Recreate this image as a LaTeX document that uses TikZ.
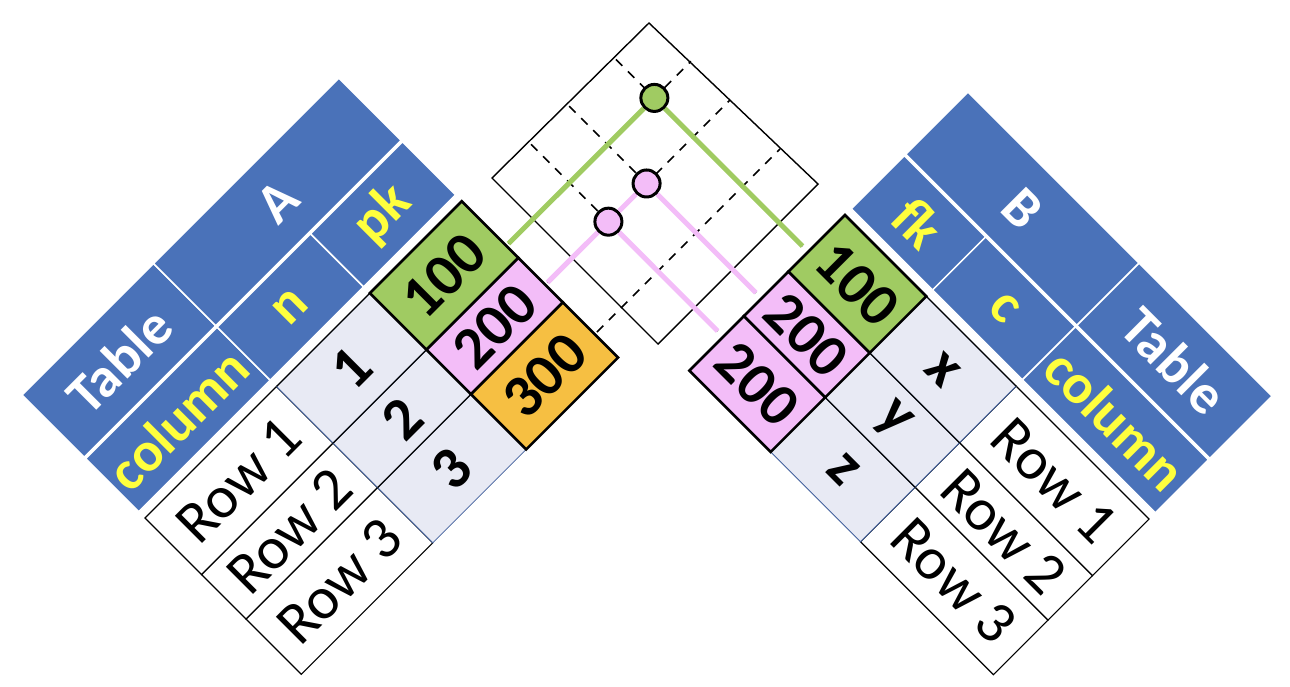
\documentclass[tikz,border=0pt]{standalone}
\usepackage{fontspec}
\setmainfont{Carlito}
\usetikzlibrary{positioning}

\definecolor{hdrblue}{HTML}{4A72B9}
\definecolor{hdryellow}{HTML}{FFFF3D}
\definecolor{keygreen}{HTML}{A0CB62}
\definecolor{keypink}{HTML}{F3BDF8}
\definecolor{keyorange}{HTML}{F6BF42}
\definecolor{bandgray}{HTML}{E8EAF4}
\definecolor{bandline}{HTML}{41609C}

\newcommand{\cellfont}{\fontsize{56}{60}\selectfont}
\newcommand{\datafont}{\fontsize{60}{64}\selectfont}

\tikzset{
  cell/.style={anchor=north west, inner sep=0pt, outer sep=0pt},
  hdrtitle/.style={cell, fill=hdrblue, draw=white, line width=1.5pt, text=white, font=\bfseries\cellfont},
  hdrcol/.style={hdrtitle, text=hdryellow},
  rowcell/.style={cell, fill=white, draw=black, line width=1.2pt, font=\datafont},
  bandcell/.style={cell, fill=bandgray, draw=bandline, line width=0.8pt, font=\bfseries\datafont},
  keycell/.style={cell, draw=black, line width=2.6pt, font=\bfseries\datafont},
  joinframe/.style={black, line width=1.4pt},
  joindash/.style={black, line width=1.6pt, dash pattern=on 9pt off 8pt},
  link/.style={line width=5pt},
  dot/.style={circle, draw=black, line width=3pt, minimum size=27pt, inner sep=0pt},
}

\begin{document}
\begin{tikzpicture}[x=1pt, y=-1pt]
  \useasboundingbox (0,0) rectangle (1290,686);

  % table A, turned to the left
  \begin{scope}[shift={(22,395)}, rotate=45, transform shape]
    \node[hdrtitle, minimum width=186pt, minimum height=88pt] (Ltable) at (0,0) {Table};
    \node[hdrtitle, minimum width=262pt, minimum height=88pt] (Lname) at (186,0) {A};
    \node[hdrcol, minimum width=186pt, minimum height=75pt] (Lcolumn) at (0,90) {column};
    \node[hdrcol, minimum width=132pt, minimum height=75pt] (Ln) at (186,90) {n};
    \node[hdrcol, minimum width=130pt, minimum height=75pt] (Lpk) at (318,90) {pk};

    \foreach \row/\ypos/\hgt/\val/\fillc in {1/174/80/100/keygreen, 2/254/63/200/keypink, 3/317/78/300/keyorange} {
      \node[rowcell, minimum width=186pt, minimum height=\hgt pt] (Lrow\row) at (0,\ypos) {Row \row};
      \node[bandcell, minimum width=132pt, minimum height=\hgt pt] (Lval\row) at (186,\ypos) {\row};
      \node[keycell, fill=\fillc, minimum width=130pt, minimum height=\hgt pt] (Lpk\row) at (318,\ypos) {\val};
      \draw[line width=1.2pt] (Lval\row.north west) -- (Lval\row.north east);
    }

    \coordinate (La1) at (451,237);
    \coordinate (Lb1) at (709,237);
    \coordinate (La2) at (451,292);
    \coordinate (Lb2) at (709,292);
    \coordinate (La3) at (451,362);
    \coordinate (Lb3) at (710,362);
  \end{scope}

  % table B, turned to the right
  \begin{scope}[shift={(968,92)}, rotate=-45, transform shape]
    \node[hdrtitle, minimum width=242pt, minimum height=88pt] (Rname) at (0,0) {B};
    \node[hdrtitle, minimum width=188pt, minimum height=88pt] (Rtable) at (242,0) {Table};
    \node[hdrcol, minimum width=115pt, minimum height=75pt] (Rfk) at (0,90) {fk};
    \node[hdrcol, minimum width=127pt, minimum height=75pt] (Rc) at (115,90) {c};
    \node[hdrcol, minimum width=188pt, minimum height=75pt] (Rcolumn) at (242,90) {column};

    \foreach \row/\ypos/\hgt/\val/\fillc/\lab in {1/174/80/100/keygreen/x, 2/254/63/200/keypink/y, 3/317/77/200/keypink/z} {
      \node[rowcell, minimum width=188pt, minimum height=\hgt pt] (Rrow\row) at (242,\ypos) {Row \row};
      \node[bandcell, minimum width=127pt, minimum height=\hgt pt] (Rc\row) at (115,\ypos) {\lab};
      \node[keycell, fill=\fillc, minimum width=115pt, minimum height=\hgt pt] (Rfk\row) at (0,\ypos) {\val};
      \draw[line width=1.2pt] (Rc\row.north west) -- (Rc\row.north east);
    }

    \coordinate (Ra1) at (-8,226);
    \coordinate (Rb1) at (-275,226);
    \coordinate (Ra2) at (-8,292);
    \coordinate (Rb2) at (-275,292);
    \coordinate (Ra3) at (-8,346);
    \coordinate (Rb3) at (-275,346);
  \end{scope}

  % join grid
  \draw[joinframe] (649,23) -- (818,184) -- (658,344) -- (492,178) -- cycle;
  \foreach \k in {1,2,3} {
    \draw[joindash] (La\k) -- (Lb\k);
    \draw[joindash] (Ra\k) -- (Rb\k);
  }

  \node[dot, fill=keygreen] (m1) at (intersection of La1--Lb1 and Ra1--Rb1) {};
  \node[dot, fill=keypink] (m2) at (intersection of La2--Lb2 and Ra2--Rb2) {};
  \node[dot, fill=keypink] (m3) at (intersection of La2--Lb2 and Ra3--Rb3) {};

  \draw[link, keygreen] (La1) -- (m1) -- (Ra1);
  \draw[link, keypink] (La2) -- (m3) -- (m2) -- (Ra2);
  \draw[link, keypink] (m3) -- (Ra3);
\end{tikzpicture}
\end{document}
